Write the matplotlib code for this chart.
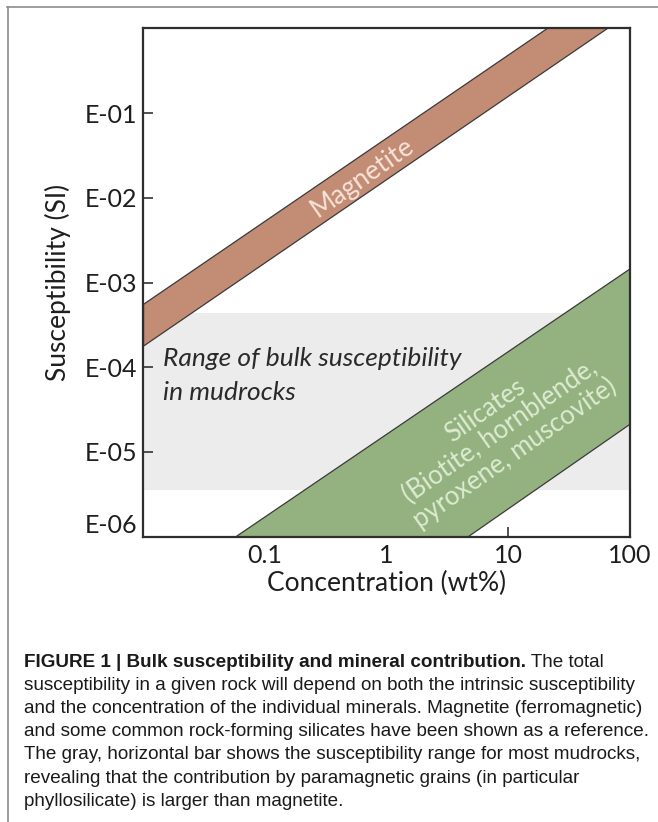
import numpy as np
import matplotlib.pyplot as plt
from matplotlib.lines import Line2D
from matplotlib.ticker import NullLocator
from matplotlib import font_manager

# --- data ---
conc_ticks = [0.1, 1, 10, 100]
conc_labels = ['0.1', '1', '10', '100']
susc_ticks = [1e-6, 1e-5, 1e-4, 1e-3, 1e-2, 1e-1]
susc_labels = ['E-06', 'E-05', 'E-04', 'E-03', 'E-02', 'E-01']

band_x = [0.01, 100]
magnetite_low = [1.8e-4, 1.54]
magnetite_high = [5.6e-4, 4.7]
silicate_low = [2.2e-9, 2.16e-5]
silicate_high = [1.84e-7, 1.47e-3]
mudrock_range = [3.6e-6, 4.4e-4]

caption_bold = 'FIGURE 1 | Bulk susceptibility and mineral contribution.'
caption_lines = [
    ' The total',
    'susceptibility in a given rock will depend on both the intrinsic susceptibility',
    'and the concentration of the individual minerals. Magnetite (ferromagnetic)',
    'and some common rock-forming silicates have been shown as a reference.',
    'The gray, horizontal bar shows the susceptibility range for most mudrocks,',
    'revealing that the contribution by paramagnetic grains (in particular',
    'phyllosilicate) is larger than magnetite.',
]

W, H = 658, 822
def px(x, y):
    return x / W, 1 - y / H

installed = {f.name for f in font_manager.fontManager.ttflist}
axis_font = 'Lato' if 'Lato' in installed else 'DejaVu Sans'
cap_font = 'Liberation Sans Narrow' if 'Liberation Sans Narrow' in installed else 'Liberation Sans'
plt.rcParams['font.family'] = [axis_font, 'DejaVu Sans']

fig = plt.figure(figsize=(W / 100, H / 100), dpi=100)
ax = fig.add_axes([143 / W, 1 - 536.7 / H, (629.7 - 143) / W, (536.7 - 28.3) / H])
ax.set_xscale('log')
ax.set_yscale('log')
ax.set_xlim(0.01, 100)
ax.set_ylim(1e-6, 1)

ax.axhspan(mudrock_range[0], mudrock_range[1], color='#ececec', lw=0, zorder=1)
ax.fill_between(band_x, magnetite_low, magnetite_high, facecolor='#c38c74',
                edgecolor='#3a3a3a', lw=0.9, zorder=2)
ax.fill_between(band_x, silicate_low, silicate_high, facecolor='#93b27f',
                edgecolor='#3a3a3a', lw=0.9, zorder=2)

ax.set_xticks(conc_ticks)
ax.set_xticklabels(conc_labels)
ax.set_yticks(susc_ticks)
ax.set_yticklabels(susc_labels)
ax.xaxis.set_minor_locator(NullLocator())
ax.yaxis.set_minor_locator(NullLocator())
ax.tick_params(direction='in', length=7.5, width=1.2, color='#333333',
               labelsize=18, labelcolor='#1e1e1e')
ax.tick_params(axis='y', pad=4)
ax.tick_params(axis='x', pad=5)
ax.get_yticklabels()[0].set_va('bottom')
for s in ax.spines.values():
    s.set_linewidth(1.6)
    s.set_color('#2e2e2e')
    s.set_zorder(5)

ax.set_ylabel('Susceptibility (SI)', fontsize=19, color='#1e1e1e', labelpad=10)
ax.set_xlabel('Concentration (wt%)', fontsize=19, color='#1e1e1e', labelpad=3)

# labels on the chart
fig.text(*px(362, 177), 'Magnetite', rotation=35, ha='center', va='center',
         rotation_mode='anchor', fontsize=19, color='#f7e3da')
fig.text(*px(163, 358), 'Range of bulk susceptibility', style='italic',
         ha='left', va='center', fontsize=19, color='#2a2a2a')
fig.text(*px(163, 392), 'in mudrocks', style='italic',
         ha='left', va='center', fontsize=19, color='#2a2a2a')
fig.text(*px(500, 432), 'Silicates\n(Biotite, hornblende,\npyroxene, muscovite)',
         rotation=35, ha='center', va='center', rotation_mode='anchor',
         multialignment='center', linespacing=1.0, fontsize=18.5, color='#dcebd2')

# frame lines
fig.add_artist(Line2D([7 / W, 1], [1 - 7.5 / H] * 2, color='#8c8c8c', lw=1.2))
fig.add_artist(Line2D([7.5 / W] * 2, [0, 1 - 7.5 / H], color='#8c8c8c', lw=1.2))

# caption: fit the widest line to ~620 px
fig.canvas.draw()
renderer = fig.canvas.get_renderer()
probe = fig.text(0, 0, caption_lines[1], family=cap_font, fontsize=12)
wpx = probe.get_window_extent(renderer).width
probe.remove()
cap_size = 12 * 618 / wpx

y0, step = 662, 23.2
t = fig.text(*px(24, y0), caption_bold, family=cap_font, fontweight='bold',
             fontsize=cap_size, va='center', color='#1a1a1a')
bb = t.get_window_extent(renderer)
fig.text(bb.x1 / W, 1 - y0 / H, caption_lines[0], family=cap_font,
         fontsize=cap_size, va='center', color='#1a1a1a')
for i, line in enumerate(caption_lines[1:], start=1):
    fig.text(*px(24, y0 + i * step), line, family=cap_font, fontsize=cap_size,
             va='center', color='#1a1a1a')

fig.savefig('out.png', dpi=100)
